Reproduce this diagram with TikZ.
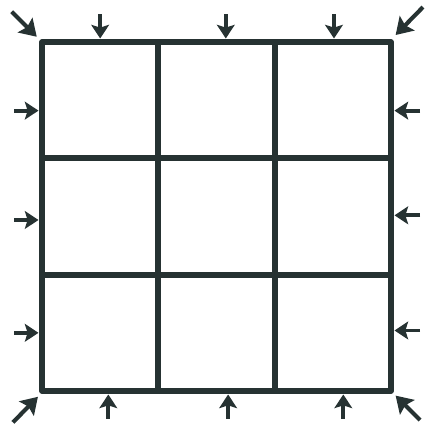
\documentclass[tikz,border=0pt]{standalone}
\usepackage{tikz}
\usetikzlibrary{arrows.meta}
\definecolor{ink}{RGB}{38,50,50}
\tikzset{
    wall/.style={draw=ink, line width=4.2pt, line cap=round, line join=round},
    push/.style={-{Stealth[length=10pt,width=13pt,inset=2pt]}, draw=ink, line width=2.8pt},
    bigpush/.style={-{Stealth[length=12pt,width=15pt,inset=2pt]}, draw=ink, line width=3pt},
}

\begin{document}
\begin{tikzpicture}[x=3cm,y=3cm]
    \useasboundingbox (-0.361,-0.292) rectangle (3.344,3.361);
    % the 3x3 grid
    \draw[wall] (0,0) rectangle (3,3);
    \foreach \k in {1,2} {
        \draw[wall] (\k,0) -- (\k,3);
        \draw[wall] (0,\k) -- (3,\k);
    }
    % loads on the sides
    \foreach \x [count=\i] in {0.5,1.58,2.51} {
        \coordinate (top\i) at (\x,3.03);
        \coordinate (top\i s) at (\x,3.24);
        \draw[push] (top\i s) -- (top\i);
    }
    \foreach \x [count=\i] in {0.57,1.6,2.59} {
        \coordinate (bot\i) at (\x,-0.03);
        \coordinate (bot\i s) at (\x,-0.24);
        \draw[push] (bot\i s) -- (bot\i);
    }
    \foreach \y [count=\i] in {2.41,1.47,0.5} {
        \coordinate (lft\i) at (-0.03,\y);
        \coordinate (lft\i s) at (-0.24,\y);
        \draw[push] (lft\i s) -- (lft\i);
    }
    \foreach \y [count=\i] in {2.41,1.51,0.52} {
        \coordinate (rgt\i) at (3.03,\y);
        \coordinate (rgt\i s) at (3.25,\y);
        \draw[push] (rgt\i s) -- (rgt\i);
    }
    % loads on the corners
    \coordinate (nw) at (-0.045,3.045);
    \coordinate (nw s) at (-0.26,3.26);
    \coordinate (ne) at (3.04,3.06);
    \coordinate (ne s) at (3.275,3.3);
    \coordinate (sw) at (-0.035,-0.05);
    \coordinate (sw s) at (-0.25,-0.27);
    \coordinate (se) at (3.04,-0.04);
    \coordinate (se s) at (3.25,-0.25);
    \draw[bigpush] (nw s) -- (nw);
    \draw[bigpush] (ne s) -- (ne);
    \draw[bigpush] (sw s) -- (sw);
    \draw[bigpush] (se s) -- (se);
\end{tikzpicture}
\end{document}
